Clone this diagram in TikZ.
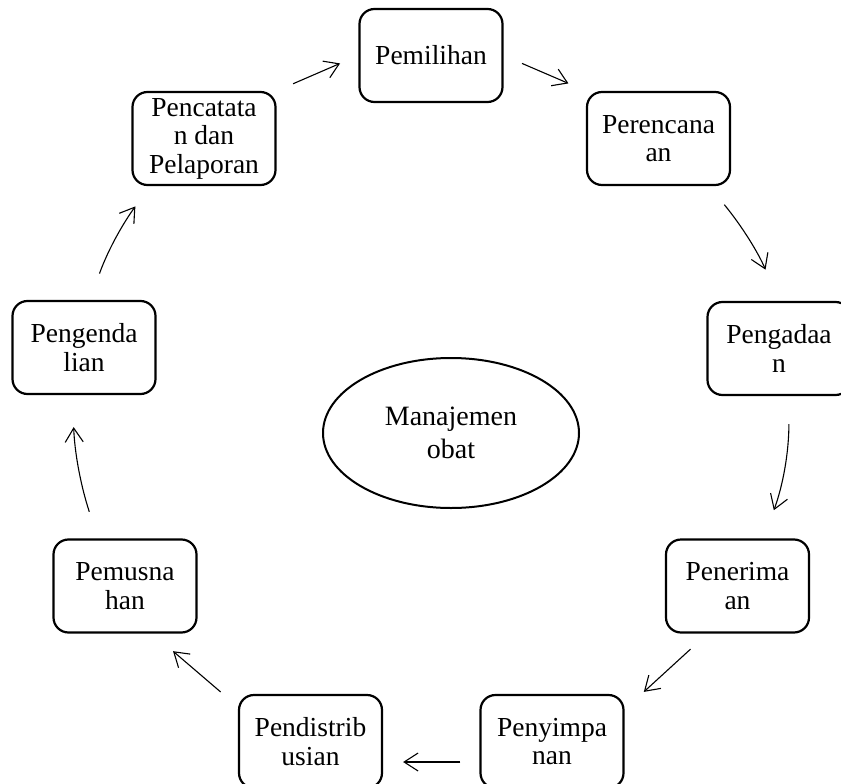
\documentclass[tikz,border=0pt]{standalone}
\usepackage{fontspec}
\setmainfont{Liberation Serif}
\usetikzlibrary{arrows.meta,shapes.geometric}

\tikzset{
  tahap/.style={draw, line width=2.2pt, rounded corners=15pt,
    minimum width=143pt, minimum height=93pt, inner sep=0pt,
    align=center, font=\fontsize{27.5}{28.5}\selectfont},
  pusat/.style={draw, ellipse, line width=2pt, minimum width=256pt,
    minimum height=150pt, inner sep=0pt, align=center,
    font=\fontsize{28}{33}\selectfont},
  siklus/.style={-{Straight Barb[length=14pt,width=18pt]}, line width=1.1pt},
}

\begin{document}
\begin{tikzpicture}[x=1pt, y=-1pt]
   \clip (0,0) rectangle (841,784);
   \node[tahap] (pemilihan) at (431,55.5) {Pemilihan};
   \node[tahap] (perencanaan) at (658.5,138.5) {Perencana\\an};
   \node[tahap] (pengadaan) at (779,348.5) {Pengadaa\\n};
   \node[tahap] (penerimaan) at (737.5,586) {Penerima\\an};
   \node[tahap] (penyimpanan) at (552,741.5) {Penyimpa\\nan};
   \node[tahap] (pendistribusian) at (310.5,741.5) {Pendistrib\\usian};
   \node[tahap] (pemusnahan) at (125,586) {Pemusna\\han};
   \node[tahap] (pengendalian) at (84,347.5) {Pengenda\\lian};
   \node[tahap] (pencatatan) at (204,138.5) {Pencatata\\n dan\\Pelaporan};
   \node[pusat] (obat) at (451,433) {Manajemen\\obat};
   \path[siklus]
    (pencatatan.north east) edge[shorten <=18pt, shorten >=20pt] (pemilihan.west)
    (pemilihan.east) edge[shorten <=20pt, shorten >=19pt] (perencanaan.north west)
    ([xshift=-22pt]perencanaan.south east) edge[bend left=8, shorten <=24pt, shorten >=34pt] (pengadaan.north)
    ([xshift=10pt]pengadaan.south) edge[bend left=10, shorten <=28pt, shorten >=30pt] ([xshift=26pt]penerimaan.north)
    ([xshift=-30pt]penerimaan.south) edge[shorten <=23pt, shorten >=3pt] ([xshift=17pt]penyimpanan.north east)
    ([yshift=-20.5pt]penyimpanan.west) edge[shorten <=19pt, shorten >=20pt] ([yshift=-20.5pt]pendistribusian.east)
    ([xshift=-15pt]pendistribusian.north west) edge[shorten <=3pt, shorten >=27pt] ([xshift=27.5pt]pemusnahan.south)
    ([xshift=-27pt]pemusnahan.north) edge[bend left=8, shorten <=28pt, shorten >=32pt] ([xshift=-11.5pt]pengendalian.south)
    ([xshift=6pt]pengendalian.north) edge[bend left=8, shorten <=28pt, shorten >=25pt] ([xshift=18.6pt]pencatatan.south west);
\end{tikzpicture}
\end{document}
